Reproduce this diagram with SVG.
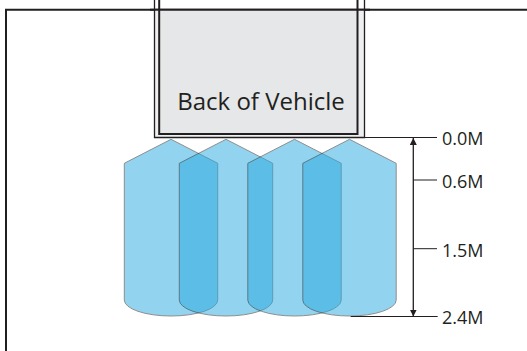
<svg xmlns="http://www.w3.org/2000/svg" width="527" height="351" viewBox="0 0 527 351">
<defs>
<style>
.frame{fill:none;stroke:#231f20;stroke-width:2}
.sensor{fill:#27aae1;stroke:#231f20;stroke-width:1;opacity:0.5}
.lbl{font-family:"Open Sans","Liberation Sans",sans-serif;font-size:18px;fill:#231f20}
.tick{stroke:#231f20;stroke-width:1;fill:none}
</style>
<marker id="ah" viewBox="0 0 10 10" refX="10" refY="5" markerWidth="7" markerHeight="7" markerUnits="userSpaceOnUse" orient="auto-start-reverse">
<path d="M0,0 L10,5 L0,10 Z" fill="#231f20"/>
</marker>
</defs>
<rect width="527" height="351" fill="#ffffff"/>
<g id="frame">
<path class="frame" d="M6,352 V9.8 H528"/>
</g>
<g id="vehicle">
<rect x="154.5" y="10" width="210" height="127.5" fill="#eeeff0"/>
<path d="M154.5,0 V137.5 H364.5 V0" fill="none" stroke="#231f20" stroke-width="1.3"/>
<rect x="159.2" y="10" width="198.3" height="124" fill="#e6e7e8"/>
<path d="M159.2,0 V134 H357.5 V0" fill="none" stroke="#231f20" stroke-width="2"/>
<path class="frame" d="M150,9.8 H370"/>
<text x="261" y="110" text-anchor="middle" font-family="'Open Sans','Liberation Sans',sans-serif" font-size="24" fill="#231f20">Back of Vehicle</text>
</g>
<g id="sensors">
<path id="sensor1" class="sensor" d="M171,139.3 L217.7,163.3 V300 A46.7,16 0 0 1 124.3,300 V163.3 Z"/>
<path id="sensor2" class="sensor" d="M226,139.3 L272.7,163.3 V300 A46.7,16 0 0 1 179.3,300 V163.3 Z"/>
<path id="sensor3" class="sensor" d="M294.5,139.3 L341.2,163.3 V300 A46.7,16 0 0 1 247.8,300 V163.3 Z"/>
<path id="sensor4" class="sensor" d="M349.5,139.3 L396.2,163.3 V300 A46.7,16 0 0 1 302.8,300 V163.3 Z"/>
</g>
<g id="connectors">
<path class="tick" d="M364.5,137.5 H437"/>
<path class="tick" d="M413.3,180 H437"/>
<path class="tick" d="M413.3,248.7 H437"/>
<path class="tick" d="M350.7,316.5 H437.7"/>
<path d="M413.3,138 V316.5" stroke="#231f20" stroke-width="1.3" fill="none" marker-start="url(#ah)" marker-end="url(#ah)"/>
</g>
<g id="labels">
<text class="lbl" x="442" y="145">0.0M</text>
<text class="lbl" x="442" y="188">0.6M</text>
<text class="lbl" x="442" y="257">1.5M</text>
<text class="lbl" x="442" y="324">2.4M</text>
</g>
</svg>
